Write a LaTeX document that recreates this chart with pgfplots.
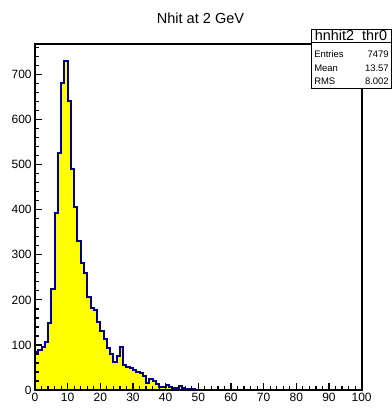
\documentclass[border=0pt]{standalone}
\usepackage{pgfplots}
\pgfplotsset{compat=1.18}
\usepackage{fontspec}
\setmainfont{Liberation Sans}
\definecolor{histline}{RGB}{0,0,153}
\definecolor{histfill}{RGB}{255,255,0}

% bin lower edge, entries (1 unit bins)
\pgfplotstableread{
x y
0 85
1 88
2 95
3 107
4 148
5 225
6 393
7 527
8 682
9 731
10 642
11 491
12 407
13 330
14 282
15 260
16 207
17 182
18 178
19 152
20 130
21 113
22 93
23 80
24 62
25 76
26 95
27 55
28 52
29 48
30 44
31 40
32 38
33 30
34 16
35 24
36 19
37 14
38 7
39 6
40 11
41 7
42 5
43 5
44 9
45 4
46 3
47 2
48 2
49 1
50 1
51 0
52 1
53 0
100 0
}\hnhit

\begin{document}
\begin{tikzpicture}[x=0.75pt,y=0.75pt]
\path[use as bounding box] (0,0) rectangle (392,408);
\begin{axis}[
  at={(26.25pt,13.5pt)}, anchor=south west,
  scale only axis, width=245pt, height=259.5pt,
  xmin=0, xmax=100, ymin=0, ymax=768,
  xtick distance=10, ytick distance=100,
  minor x tick num=4, minor y tick num=4,
  tick pos=left, tick align=inside,
  major tick length=5.2pt, minor tick length=2.8pt,
  every tick/.style={black, line width=0.9pt},
  axis line style={line width=1.4pt},
  tick label style={font=\fontsize{9}{10}\selectfont},
  /pgf/number format/assume math mode=true,
  xticklabel style={yshift=1pt},
  yticklabel style={xshift=1pt},
  axis on top,
]
\addplot[const plot, fill=histfill, draw=histline, line width=1.5pt]
  table[x=x, y=y] {\hnhit} \closedcycle;
\end{axis}

% title
\node[font=\fontsize{10.9}{12}\selectfont] at (200.5,390) {Nhit at 2 GeV};

% statistics box
\draw[fill=white, line width=0.75pt] (311,319) rectangle (391.2,378);
\draw[line width=0.75pt] (311,365) -- (391.2,365);
\node[font=\fontsize{10.8}{12}\selectfont] at (351,371.5) {hnhit2\_thr0};
\begin{scope}[every node/.style={font=\fontsize{7.1}{8}\selectfont, inner sep=0pt}]
\node[anchor=west] at (314,354) {Entries};
\node[anchor=east] at (389,354) {7479};
\node[anchor=west] at (314,340) {Mean};
\node[anchor=east] at (389,340) {13.57};
\node[anchor=west] at (314,327) {RMS};
\node[anchor=east] at (389,327) {8.002};
\end{scope}
\end{tikzpicture}
\end{document}
